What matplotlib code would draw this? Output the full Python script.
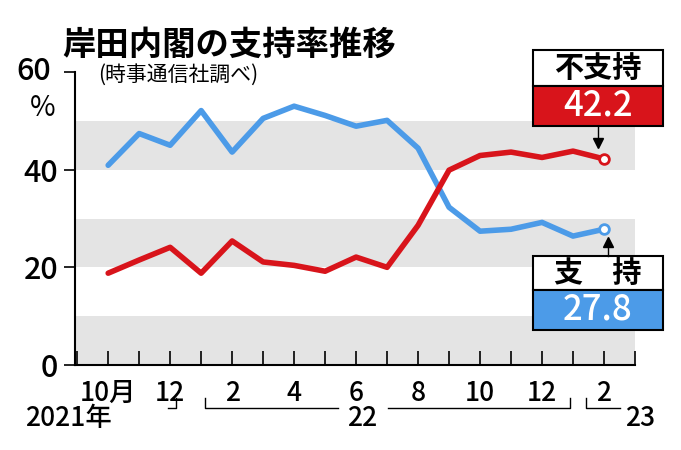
import matplotlib
matplotlib.use("Agg")
import matplotlib.pyplot as plt

plt.rcParams['font.family'] = ['Noto Sans CJK JP', 'DejaVu Sans']

months = list(range(17))  # Oct 2021 .. Feb 2023
support = [40.9, 47.4, 45.0, 52.1, 43.6, 50.5, 53.0, 51.1, 48.9, 50.1, 44.4, 32.3, 27.4, 27.8, 29.2, 26.4, 27.8]
disapprove = [18.8, 21.5, 24.1, 18.8, 25.4, 21.1, 20.4, 19.2, 22.1, 20.0, 28.6, 39.9, 42.9, 43.6, 42.5, 43.8, 42.2]
tick_pos = [0, 2, 4, 6, 8, 10, 12, 14, 16]
tick_labels = ['10月', '12', '2', '4', '6', '8', '10', '12', '2']
yticks = [0, 20, 40, 60]

W, H = 681, 450
fig = plt.figure(figsize=(W/100, H/100), dpi=100)
ax = fig.add_axes([75/W, 1-365/H, 560/W, 293/H])
ax.set_xlim(-1.07, 16.85)
ax.set_ylim(0, 60)
for lo in (0, 20, 40):
    ax.axhspan(lo, lo+10, color='#e4e4e4', zorder=0, lw=0)
ax.plot(months, support, color='#4c9be8', lw=4, zorder=3, solid_capstyle='round')
ax.plot(months, disapprove, color='#d8141b', lw=4, zorder=3, solid_capstyle='round')
ax.plot([16], [support[-1]], 'o', ms=7, mfc='white', mec='#4c9be8', mew=2, zorder=4)
ax.plot([16], [disapprove[-1]], 'o', ms=7, mfc='white', mec='#d8141b', mew=2, zorder=4)
for s in ['top', 'right']:
    ax.spines[s].set_visible(False)
ax.spines['left'].set_linewidth(1.5)
ax.spines['bottom'].set_linewidth(1.5)
ax.set_yticks(yticks)
ax.set_yticklabels(['0', '20', '40', ''], fontsize=22, fontweight='medium')
ax.set_xticks([i - 1 for i in range(0, 19)])
ax.set_xticklabels([''] * 19)
ax.tick_params(axis='x', length=10, width=1.2, direction='in')
ax.tick_params(axis='y', length=8, width=1.2, direction='out', pad=4)
for p, l in zip(tick_pos, tick_labels):
    ax.text(p, -3, l, ha='center', va='top', fontsize=19, fontweight='medium', transform=ax.transData)

fig.text(16/W, 1-72/H, '60', ha='left', va='center', fontsize=22, fontweight='medium')
fig.text(62/W, 1-45/H, '岸田内閣の支持率推移', fontsize=24, fontweight='bold', va='center')
fig.text(98/W, 1-75/H, '(時事通信社調べ)', fontsize=15, va='center')
fig.text(30/W, 1-108/H, '%', fontsize=20, va='center')
fig.text(25/W, 1-418/H, '2021年', fontsize=19, fontweight='medium', va='center')
fig.text(362/W, 1-418/H, '22', fontsize=19, fontweight='medium', va='center', ha='center')
fig.text(640/W, 1-418/H, '23', fontsize=19, fontweight='medium', va='center', ha='center')
ax2 = fig.add_axes([0, 0, 1, 1], facecolor='none')
ax2.set_xlim(0, W); ax2.set_ylim(H, 0); ax2.axis('off')
ax2.plot([168, 176, 176], [408, 408, 398], color='black', lw=1)
ax2.plot([205, 205, 338], [398, 408, 408], color='black', lw=1)
ax2.plot([388, 570, 570], [408, 408, 398], color='black', lw=1)
ax2.plot([586, 586, 620], [398, 408, 408], color='black', lw=1)

ax2.add_patch(plt.Rectangle((533, 50), 130, 36, fc='white', ec='black', lw=1.5))
ax2.text(598, 68, '不支持', fontsize=21, fontweight='bold', ha='center', va='center')
ax2.add_patch(plt.Rectangle((533, 86), 130, 40, fc='#d8141b', ec='black', lw=1.5))
ax2.text(598, 106, '42.2', fontsize=25, fontweight='medium', color='white', ha='center', va='center')
ax2.plot([598, 598], [126, 146], color='black', lw=1)
ax2.plot([598], [143], marker='v', color='black', ms=7)
ax2.add_patch(plt.Rectangle((533, 256), 130, 34, fc='white', ec='black', lw=1.5))
ax2.text(598, 273, '支　持', fontsize=21, fontweight='bold', ha='center', va='center')
ax2.add_patch(plt.Rectangle((533, 290), 130, 40, fc='#4c9be8', ec='black', lw=1.5))
ax2.text(598, 310, '27.8', fontsize=25, fontweight='medium', color='white', ha='center', va='center')
ax2.plot([608, 608], [256, 240], color='black', lw=1)
ax2.plot([608], [242], marker='^', color='black', ms=7)

fig.savefig('out.png', dpi=100)
